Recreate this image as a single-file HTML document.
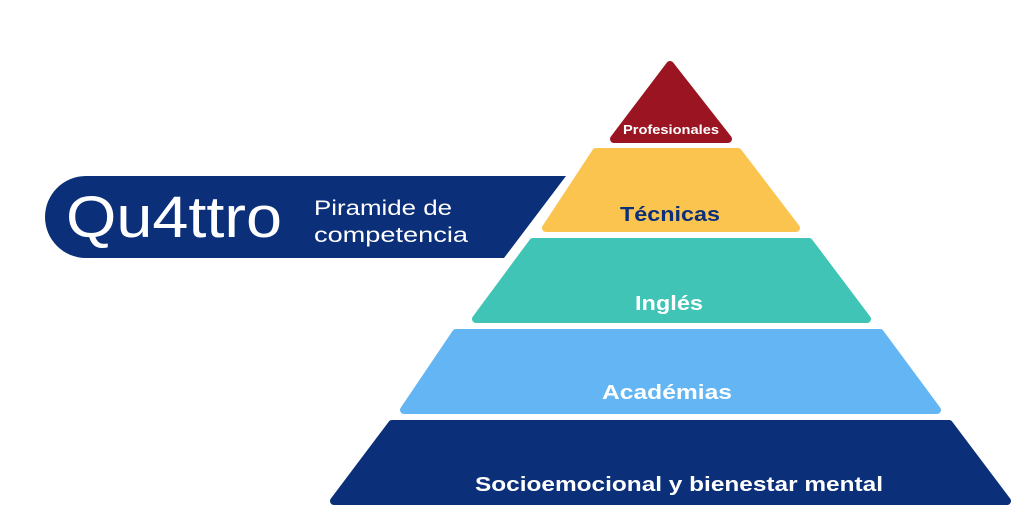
<!DOCTYPE html>
<html><head><meta charset="utf-8"><style>
html,body{margin:0;padding:0;background:#fff;width:1024px;height:510px;overflow:hidden}
svg text{font-family:"Liberation Sans",sans-serif;font-weight:bold}
</style></head><body>
<svg width="1024" height="510" viewBox="0 0 1024 510" xmlns="http://www.w3.org/2000/svg">
<path d="M86,176 L566,176 L504,258 L86,258 A41,41 0 0 1 86,176 Z" fill="#0c2f7a"/>
<text x="66" y="237" fill="#fff" font-size="58" style="font-weight:normal" textLength="216" lengthAdjust="spacingAndGlyphs">Qu4ttro</text>
<text x="314" y="215" fill="#fff" font-size="21" style="font-weight:normal" textLength="138" lengthAdjust="spacingAndGlyphs">Piramide de</text>
<text x="314" y="242" fill="#fff" font-size="21" style="font-weight:normal" textLength="154" lengthAdjust="spacingAndGlyphs">competencia</text>
<g stroke-linejoin="round" stroke-width="8">
<polygon points="670,65 728,139 614,139" fill="#9b1422" stroke="#9b1422"/>
<polygon points="596,152 738,152 796,228 546,228" fill="#fbc44f" stroke="#fbc44f"/>
<polygon points="533,242 809,242 867,319 476,319" fill="#3fc4b6" stroke="#3fc4b6"/>
<polygon points="456,333 880,333 937,410 404,410" fill="#63b6f3" stroke="#63b6f3"/>
<polygon points="392,424 949,424 1007,501 334,501" fill="#0c2f7a" stroke="#0c2f7a"/>
</g>
<text x="671" y="134" fill="#fff" font-size="13" text-anchor="middle" textLength="96" lengthAdjust="spacingAndGlyphs">Profesionales</text>
<text x="670" y="221" fill="#0c2f7a" font-size="20" text-anchor="middle" textLength="100" lengthAdjust="spacingAndGlyphs">Técnicas</text>
<text x="669" y="310" fill="#fff" font-size="20" text-anchor="middle" textLength="68" lengthAdjust="spacingAndGlyphs">Inglés</text>
<text x="667" y="399" fill="#fff" font-size="20" text-anchor="middle" textLength="130" lengthAdjust="spacingAndGlyphs">Académias</text>
<text x="679" y="491" fill="#fff" font-size="20" text-anchor="middle" textLength="408" lengthAdjust="spacingAndGlyphs">Socioemocional y bienestar mental</text>
</svg>
</body></html>
